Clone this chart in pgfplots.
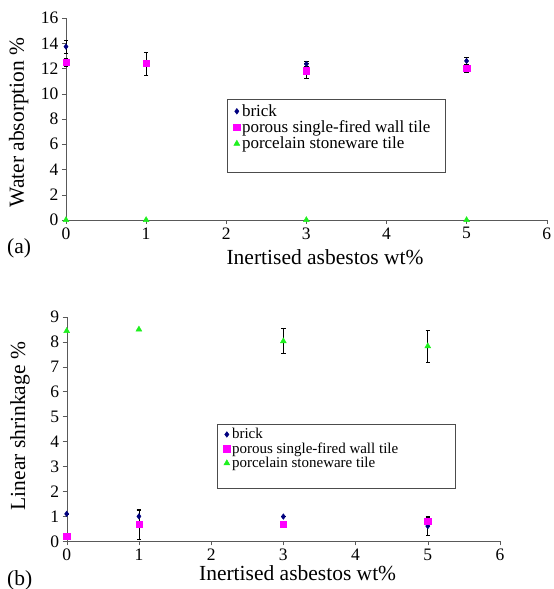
\documentclass[border=0pt]{standalone}
\usepackage{pgfplots}
\pgfplotsset{compat=1.18}
\usepackage{pgfplotstable}
\usepackage{fontspec}
\setmainfont{Liberation Serif}
\definecolor{bricknavy}{RGB}{0,0,128}
\definecolor{porousmag}{RGB}{255,0,255}
\definecolor{porclime}{RGB}{30,240,30}

\pgfplotstableread{
x y e
0 13.73 0.5
1 12.40 0.0
3 12.36 0.2
5 12.60 0.3
}\brickA
\pgfplotstableread{
x y e
0 12.50 0.3
1 12.40 0.9
3 11.83 0.6
5 12.00 0.3
}\porousA
\pgfplotstableread{
x y e
0 0 0
1 0 0
3 0 0
5 0 0
}\porcA
\pgfplotstableread{
x y e
0 1.10 0.0
1 1.00 0.3
3 0.99 0.0
5 0.61 0.36
}\brickB
\pgfplotstableread{
x y e
0 0.21 0.05
1 0.68 0.58
3 0.69 0.0
5 0.80 0.19
}\porousB
\pgfplotstableread{
x y e
0 8.43 0.0
1 8.49 0.0
3 8.02 0.5
5 7.82 0.64
}\porcB

\pgfplotsset{
  common/.style={
    scale only axis,
    anchor=south west,
    xmin=0, xmax=6,
    xtick={0,1,...,6},
    axis x line*=bottom, axis y line*=left,
    axis line style={black!65, -},
    tick style={black!65},
    tick align=outside,
    major tick length=4pt,
    clip=false,
    /pgf/number format/assume math mode=true,
    tick label style={font=\fontsize{17.5}{20}\selectfont},
    label style={font=\fontsize{21.5}{24}\selectfont},
    legend cell align=left,
    error bars/error bar style={black, line width=0.6pt},
    error bars/error mark options={rotate=90, black, mark size=2.2pt, line width=0.6pt},
  },
  brk/.style={only marks, mark=diamond*, mark size=2.8pt, color=bricknavy, mark options={fill=bricknavy, draw=bricknavy}},
  por/.style={only marks, mark=square*, mark size=3.2pt, color=porousmag, mark options={fill=porousmag, draw=porousmag}},
  prc/.style={only marks, mark=triangle*, mark size=3.4pt, color=porclime, mark options={fill=porclime, draw=porclime}},
}

\begin{document}
\begin{tikzpicture}[x=1pt,y=1pt]
\useasboundingbox (0,0) rectangle (554,589);

% (a) top
\begin{axis}[common,
  at={(66pt,369pt)},
  width=480.7pt, height=202pt,
  ymin=0, ymax=16, ytick={0,2,...,16},
  xlabel={Inertised asbestos wt\%},
  ylabel={Water absorption \%},
  xlabel style={at={(axis description cs:0.539,0)}, anchor=north, yshift=-26pt},
  ylabel style={at={(axis description cs:-0.0984,0.483)}, anchor=center},
  legend style={at={(axis description cs:0.335,0.599)}, anchor=north west,
    draw=black!70, line width=0.5pt, font=\fontsize{17}{18}\selectfont,
    row sep=0pt, inner xsep=1pt, inner ysep=4pt,
    nodes={inner ysep=1.4pt, inner xsep=2pt}},
]
\addplot+[brk, error bars/.cd, y dir=both, y explicit] table[x=x, y=y, y error=e] {\brickA};
\addlegendentry{brick}
\addplot+[por, error bars/.cd, y dir=both, y explicit] table[x=x, y=y, y error=e] {\porousA};
\addlegendentry{porous single-fired wall tile\kern12pt}
\addplot+[prc] table[x=x, y=y] {\porcA};
\addlegendentry{porcelain stoneware tile}
\addlegendimage{empty legend}
\addlegendentry{\strut}
\end{axis}
\node[anchor=west, font=\fontsize{21.5}{24}\selectfont, inner sep=0pt] at (7,341) {(a)};

% (b) bottom
\begin{axis}[common,
  at={(66.7pt,47.7pt)},
  width=433.3pt, height=224.6pt,
  ymin=0, ymax=9, ytick={0,1,...,9},
  xlabel={Inertised asbestos wt\%},
  ylabel={Linear shrinkage \%},
  xlabel style={at={(axis description cs:0.533,0)}, anchor=north, yshift=-21pt},
  ylabel style={at={(axis description cs:-0.1078,0.513)}, anchor=center},
  legend style={at={(axis description cs:0.347,0.522)}, anchor=north west,
    draw=black!70, line width=0.5pt, font=\fontsize{15}{16}\selectfont,
    row sep=0pt, inner xsep=1pt, inner ysep=3pt,
    nodes={inner ysep=1.2pt, inner xsep=2pt}},
]
\addplot+[brk, error bars/.cd, y dir=both, y explicit] table[x=x, y=y, y error=e] {\brickB};
\addlegendentry{brick}
\addplot+[por, error bars/.cd, y dir=both, y explicit] table[x=x, y=y, y error=e] {\porousB};
\addlegendentry{porous single-fired wall tile\kern54pt}
\addplot+[prc, error bars/.cd, y dir=both, y explicit] table[x=x, y=y, y error=e] {\porcB};
\addlegendentry{porcelain stoneware tile}
\addlegendimage{empty legend}
\addlegendentry{\strut}
\end{axis}
\node[anchor=west, font=\fontsize{21.5}{24}\selectfont, inner sep=0pt] at (7,9) {(b)};
\end{tikzpicture}
\end{document}
